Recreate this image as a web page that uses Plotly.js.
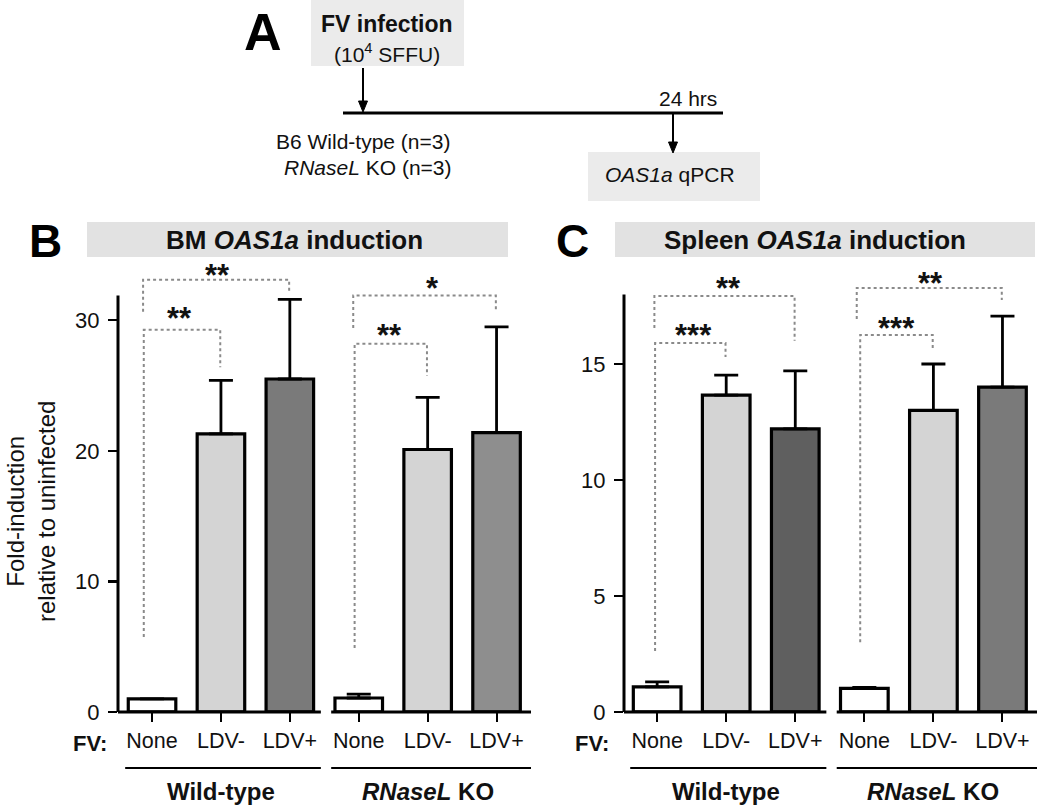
<!DOCTYPE html>
<html>
<head>
<meta charset="utf-8">
<script src="https://cdn.plot.ly/plotly-3.0.1.min.js"></script>
<style>html,body{margin:0;padding:0;background:#fff;}#chart{width:1050px;height:812px;}</style>
</head>
<body>
<div id="chart"></div>
<script>
// ---- data ----
const conditions = ['None', 'LDV-', 'LDV+', 'None', 'LDV-', 'LDV+'];
const genotypes = ['Wild-type', '<i>RNaseL</i> KO'];
const bmMean = [1.0, 21.3, 25.5, 1.07, 20.1, 21.4];
const bmErr = [0.0, 4.1, 6.1, 0.3, 4.0, 8.1];
const spleenMean = [1.08, 13.66, 12.2, 1.02, 13.0, 14.0];
const spleenErr = [0.22, 0.86, 2.5, 0.04, 2.0, 3.06];
const bmSig = ['**', '**', '**', '*'];
const spleenSig = ['***', '**', '***', '**'];
const comparisons = [[0, 1], [0, 2], [3, 4], [3, 5]];

// ---- styles ----
const FONT = 'Liberation Sans, Arial, Helvetica, sans-serif';
const bmColors = ['#ffffff', '#d4d4d4', '#7a7a7a', '#ffffff', '#d4d4d4', '#8e8e8e'];
const spColors = ['#ffffff', '#d4d4d4', '#5f5f5f', '#ffffff', '#d4d4d4', '#7a7a7a'];
const xs = conditions.map((_, i) => i);

function barTrace(vals, errs, colors, xa, ya) {
  return {
    type: 'bar', x: xs, y: vals, xaxis: xa, yaxis: ya, width: 0.69,
    marker: {color: colors, line: {color: '#000', width: 3.2}},
    error_y: {type: 'data', symmetric: false, array: errs, arrayminus: errs.map(() => 0),
      color: '#000', thickness: 2.8, width: 12},
    showlegend: false, hoverinfo: 'skip'
  };
}

const data = [
  barTrace(bmMean, bmErr, bmColors, 'x', 'y'),
  barTrace(spleenMean, spleenErr, spColors, 'x2', 'y2')
];

// bracket geometry (layout): [leftX, top, leftBottom, rightBottom, labelX, labelY]
const bmBr = [[-0.12, 29.27, 5.75, 26.4, 0.4, 30.6], [-0.13, 33.1, 30.65, 32.26, 0.95, 33.9],
              [2.94, 28.2, 4.9, 25.75, 3.44, 29.3], [2.92, 31.9, 29.4, 30.65, 4.07, 32.9]];
const spBr = [[-0.03, 15.9, 2.63, 15.3, 0.52, 16.5], [-0.04, 17.93, 16.55, 16.0, 1.03, 18.5],
              [2.94, 16.25, 3.0, 15.56, 3.46, 16.8], [2.89, 18.28, 16.94, 17.76, 3.96, 18.75]];

const shapes = [];
const annotations = [];
const dotLine = {color: '#8a8a8a', width: 2, dash: 'dot'};

function ann(o) {
  annotations.push(Object.assign({showarrow: false, xanchor: 'center', yanchor: 'middle'}, o));
}

function addBrackets(br, sig, xr, yr) {
  br.forEach((b, k) => {
    const x0 = b[0], x1 = comparisons[k][1] - 0.01;
    shapes.push({type: 'path', xref: xr, yref: yr,
      path: `M ${x0} ${b[2]} L ${x0} ${b[1]} L ${x1} ${b[1]} L ${x1} ${b[3]}`,
      line: dotLine});
    ann({xref: xr, yref: yr, x: b[4], y: b[5], text: '<b>' + sig[k] + '</b>',
      font: {family: FONT, size: 31, color: '#111'}, yshift: -6});
  });
}
addBrackets(bmBr, bmSig, 'x', 'y');
addBrackets(spBr, spleenSig, 'x2', 'y2');

function addAxes(xr, yr, yTop, xStart, fvX) {
  shapes.push({type: 'line', xref: xr + ' domain', yref: yr, x0: 0, x1: 0, y0: 0, y1: yTop,
    line: {color: '#000', width: 3}});
  shapes.push({type: 'line', xref: xr, yref: yr + ' domain', x0: xStart, x1: 2.45, y0: 0, y1: 0,
    line: {color: '#000', width: 3}});
  shapes.push({type: 'line', xref: xr, yref: yr + ' domain', x0: 2.6, x1: 5.5, y0: 0, y1: 0,
    line: {color: '#000', width: 3}});
  shapes.push({type: 'line', xref: xr, yref: yr + ' domain', x0: -0.39, x1: 2.45, y0: -0.1225, y1: -0.1225,
    line: {color: '#000', width: 2}});
  shapes.push({type: 'line', xref: xr, yref: yr + ' domain', x0: 2.6, x1: 5.5, y0: -0.1225, y1: -0.1225,
    line: {color: '#000', width: 2}});
  genotypes.forEach((g, i) => {
    ann({xref: xr, yref: yr + ' domain', x: 1 + 3 * i, y: -0.175, text: '<b>' + g + '</b>',
      font: {family: FONT, size: 24, color: '#111'}});
  });
  ann({xref: xr + ' domain', yref: yr + ' domain', x: fvX, y: -0.068, xanchor: 'right',
    text: '<b>FV:</b>', font: {family: FONT, size: 22, color: '#111'}});
}
addAxes('x', 'y', 31.9, -0.494, -0.022);
addAxes('x2', 'y2', 18, -0.48, -0.032);

function px(x) { return x / 1050; }
function py(y) { return 1 - y / 812; }
shapes.push({type: 'rect', xref: 'paper', yref: 'paper', x0: px(87), x1: px(508), y0: py(257), y1: py(222),
  fillcolor: '#e2e2e2', line: {width: 0}, layer: 'below'});
shapes.push({type: 'rect', xref: 'paper', yref: 'paper', x0: px(615), x1: px(1035), y0: py(257), y1: py(222),
  fillcolor: '#e2e2e2', line: {width: 0}, layer: 'below'});
ann({xref: 'paper', yref: 'paper', x: px(294), y: py(240), text: '<b>BM <i>OAS1a</i> induction</b>',
  font: {family: FONT, size: 26, color: '#111'}});
ann({xref: 'paper', yref: 'paper', x: px(815), y: py(240), text: '<b>Spleen <i>OAS1a</i> induction</b>',
  font: {family: FONT, size: 26, color: '#111'}});

[['A', 263, 32, 52], ['B', 45, 241, 46], ['C', 572, 241, 46]].forEach(l => {
  ann({xref: 'paper', yref: 'paper', x: px(l[1]), y: py(l[2]), text: '<b>' + l[0] + '</b>',
    font: {family: FONT, size: l[3], color: '#000'}});
});

ann({xref: 'paper', yref: 'paper', x: px(31), y: py(512), textangle: -90,
  text: 'Fold-induction<br>relative to uninfected', font: {family: FONT, size: 24, color: '#111'}});

// panel A schematic
shapes.push({type: 'rect', xref: 'paper', yref: 'paper', x0: px(311), x1: px(464), y0: py(66), y1: py(0),
  fillcolor: '#ebebeb', line: {width: 0}, layer: 'below'});
shapes.push({type: 'rect', xref: 'paper', yref: 'paper', x0: px(588), x1: px(760), y0: py(201), y1: py(152),
  fillcolor: '#ebebeb', line: {width: 0}, layer: 'below'});
shapes.push({type: 'line', xref: 'paper', yref: 'paper', x0: px(343), x1: px(723), y0: py(113), y1: py(113),
  line: {color: '#000', width: 3}});
function arrowDown(x, yStart, yTip) {
  shapes.push({type: 'line', xref: 'paper', yref: 'paper', x0: px(x), x1: px(x), y0: py(yStart), y1: py(yTip - 6),
    line: {color: '#000', width: 2}});
  shapes.push({type: 'path', xref: 'paper', yref: 'paper',
    path: `M ${px(x)} ${py(yTip)} L ${px(x - 4.5)} ${py(yTip - 11)} L ${px(x + 4.5)} ${py(yTip - 11)} Z`,
    fillcolor: '#000', line: {color: '#000', width: 1}});
}
arrowDown(363, 68, 112);
arrowDown(673, 113, 153);
const aText = [
  ['<b>FV infection</b>', 387, 24, 23],
  ['(10<sup>4</sup> SFFU)', 387, 53, 21],
  ['24 hrs', 688, 98, 21],
  ['B6 Wild-type (n=3)', 363, 141, 21],
  ['<i>RNaseL</i> KO (n=3)', 368, 168, 21],
  ['<i>OAS1a</i> qPCR', 670, 174, 21]
];
aText.forEach(t => ann({xref: 'paper', yref: 'paper', x: px(t[1]), y: py(t[2]), text: t[0],
  font: {family: FONT, size: t[3], color: '#111'}}));

const yCommon = {showgrid: false, zeroline: false, showline: false, ticks: 'outside', ticklen: 9,
  tickwidth: 2.5, tickcolor: '#000', tickfont: {family: FONT, size: 22, color: '#111'},
  ticklabelstandoff: 4, domain: [0.1232, 0.686]};
const xCommon = {showgrid: false, zeroline: false, showline: false, ticks: 'outside', ticklen: 9,
  tickwidth: 2, tickcolor: '#000', tickvals: xs, ticktext: conditions,
  tickfont: {family: FONT, size: 21.5, color: '#111'}};

const layout = {
  width: 1050, height: 812, margin: {l: 0, r: 0, t: 0, b: 0},
  paper_bgcolor: '#fff', plot_bgcolor: 'rgba(0,0,0,0)', showlegend: false,
  bargap: 0,
  xaxis: Object.assign({}, xCommon, {domain: [px(118), px(531)], range: [-0.494, 5.5], anchor: 'y'}),
  yaxis: Object.assign({}, yCommon, {range: [0, 35], tickvals: [0, 10, 20, 30], anchor: 'x'}),
  xaxis2: Object.assign({}, xCommon, {domain: [px(624), px(1037)], range: [-0.48, 5.5], anchor: 'y2'}),
  yaxis2: Object.assign({}, yCommon, {range: [0, 19.7], tickvals: [0, 5, 10, 15], anchor: 'x2'}),
  shapes: shapes, annotations: annotations
};

Plotly.newPlot('chart', data, layout, {staticPlot: true, displayModeBar: false});
</script>
</body>
</html>
